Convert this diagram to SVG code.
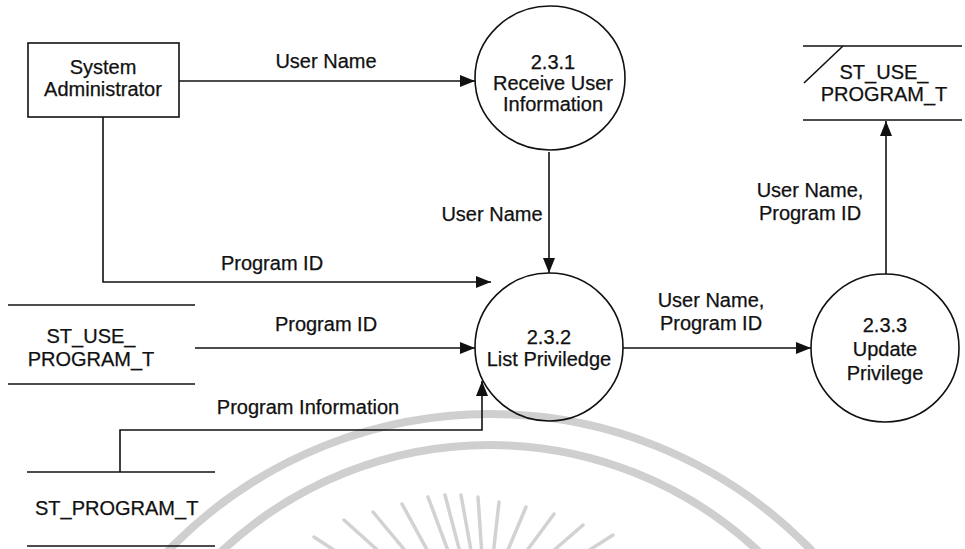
<svg xmlns="http://www.w3.org/2000/svg" width="965" height="549" viewBox="0 0 965 549">
<defs>
<style>
.ln{fill:none;stroke:#111;stroke-width:1.6}
.sh{fill:none;stroke:#111;stroke-width:1.6}
.t{font-family:"Liberation Sans",Arial,sans-serif;font-size:20px;fill:#111;stroke:#111;stroke-width:0.25;text-anchor:middle}
.wm{fill:none;stroke:#cfcfcf;stroke-width:8}
.ray{stroke:#d2d2d2;stroke-width:3.5;stroke-linecap:round}
</style>
<marker id="ah" markerUnits="userSpaceOnUse" markerWidth="16" markerHeight="12" refX="15" refY="6" orient="auto">
<path d="M0,0 L15,6 L0,12 Z" fill="#111"/>
</marker>
</defs>
<rect width="965" height="549" fill="#fff"/>
<g id="watermark">
<circle class="wm" cx="490" cy="861" r="447"/>
<circle class="wm" cx="490" cy="837" r="392"/>
<g class="ray">
<line x1="285" y1="558" x2="352" y2="585"/>
<line x1="314" y1="537" x2="372" y2="575"/>
<line x1="344" y1="520" x2="394" y2="565"/>
<line x1="373" y1="512" x2="413" y2="560"/>
<line x1="402" y1="504" x2="431" y2="557"/>
<line x1="428" y1="497" x2="450" y2="556"/>
<line x1="445" y1="495" x2="461" y2="556"/>
<line x1="461" y1="495" x2="472" y2="556"/>
<line x1="478" y1="497" x2="482" y2="556"/>
<line x1="499" y1="502" x2="493" y2="556"/>
<line x1="526" y1="507" x2="505" y2="557"/>
<line x1="554" y1="514" x2="520" y2="560"/>
<line x1="583" y1="525" x2="537" y2="565"/>
<line x1="613" y1="535" x2="555" y2="572"/>
<line x1="638" y1="558" x2="575" y2="585"/>
</g>
</g>
<g id="connectors">
<line class="ln" x1="179" y1="81" x2="475" y2="81" marker-end="url(#ah)"/>
<line class="ln" x1="549" y1="152" x2="549" y2="273" marker-end="url(#ah)"/>
<polyline class="ln" points="103,117 103,282 491,282" marker-end="url(#ah)"/>
<line class="ln" x1="195" y1="348" x2="475" y2="348" marker-end="url(#ah)"/>
<polyline class="ln" points="120,472 120,430 482,430 482,381" marker-end="url(#ah)"/>
<line class="ln" x1="623" y1="348" x2="811" y2="348" marker-end="url(#ah)"/>
<line class="ln" x1="886" y1="274" x2="886" y2="121" marker-end="url(#ah)"/>
<text class="t" x="326" y="68">User Name</text>
<text class="t" x="492" y="221">User Name</text>
<text class="t" x="272" y="270">Program ID</text>
<text class="t" x="326" y="331">Program ID</text>
<text class="t" x="308" y="414">Program Information</text>
<text class="t" x="711" y="307">User Name,</text>
<text class="t" x="711" y="330">Program ID</text>
<text class="t" x="810" y="197">User Name,</text>
<text class="t" x="810" y="220">Program ID</text>
</g>
<g id="system-administrator">
<rect class="sh" x="28" y="43" width="151" height="74"/>
<text class="t" x="103" y="74">System</text>
<text class="t" x="103" y="96">Administrator</text>
</g>
<g id="p231">
<ellipse class="sh" cx="550" cy="78" rx="75" ry="72"/>
<text class="t" x="553" y="69">2.3.1</text>
<text class="t" x="553" y="90">Receive User</text>
<text class="t" x="553" y="111">Information</text>
</g>
<g id="p232">
<circle class="sh" cx="549" cy="347" r="74"/>
<text class="t" x="549" y="344">2.3.2</text>
<text class="t" x="549" y="366">List Priviledge</text>
</g>
<g id="p233">
<circle class="sh" cx="885" cy="348" r="74"/>
<text class="t" x="885" y="332">2.3.3</text>
<text class="t" x="885" y="356">Update</text>
<text class="t" x="885" y="380">Privilege</text>
</g>
<g id="store-use-program-left">
<line class="sh" x1="8" y1="305" x2="195" y2="305"/>
<line class="sh" x1="8" y1="384" x2="195" y2="384"/>
<text class="t" x="91" y="343">ST_USE_</text>
<text class="t" x="91" y="366">PROGRAM_T</text>
</g>
<g id="store-program">
<line class="sh" x1="27" y1="472" x2="215" y2="472"/>
<line class="sh" x1="27" y1="546" x2="215" y2="546"/>
<text class="t" x="35" y="515" style="text-anchor:start">ST_PROGRAM_T</text>
</g>
<g id="store-use-program-right">
<line class="sh" x1="803" y1="46" x2="962" y2="46"/>
<line class="sh" x1="843" y1="46" x2="804" y2="83"/>
<line class="sh" x1="803" y1="120" x2="962" y2="120"/>
<text class="t" x="884" y="79">ST_USE_</text>
<text class="t" x="884" y="101">PROGRAM_T</text>
</g>
</svg>
